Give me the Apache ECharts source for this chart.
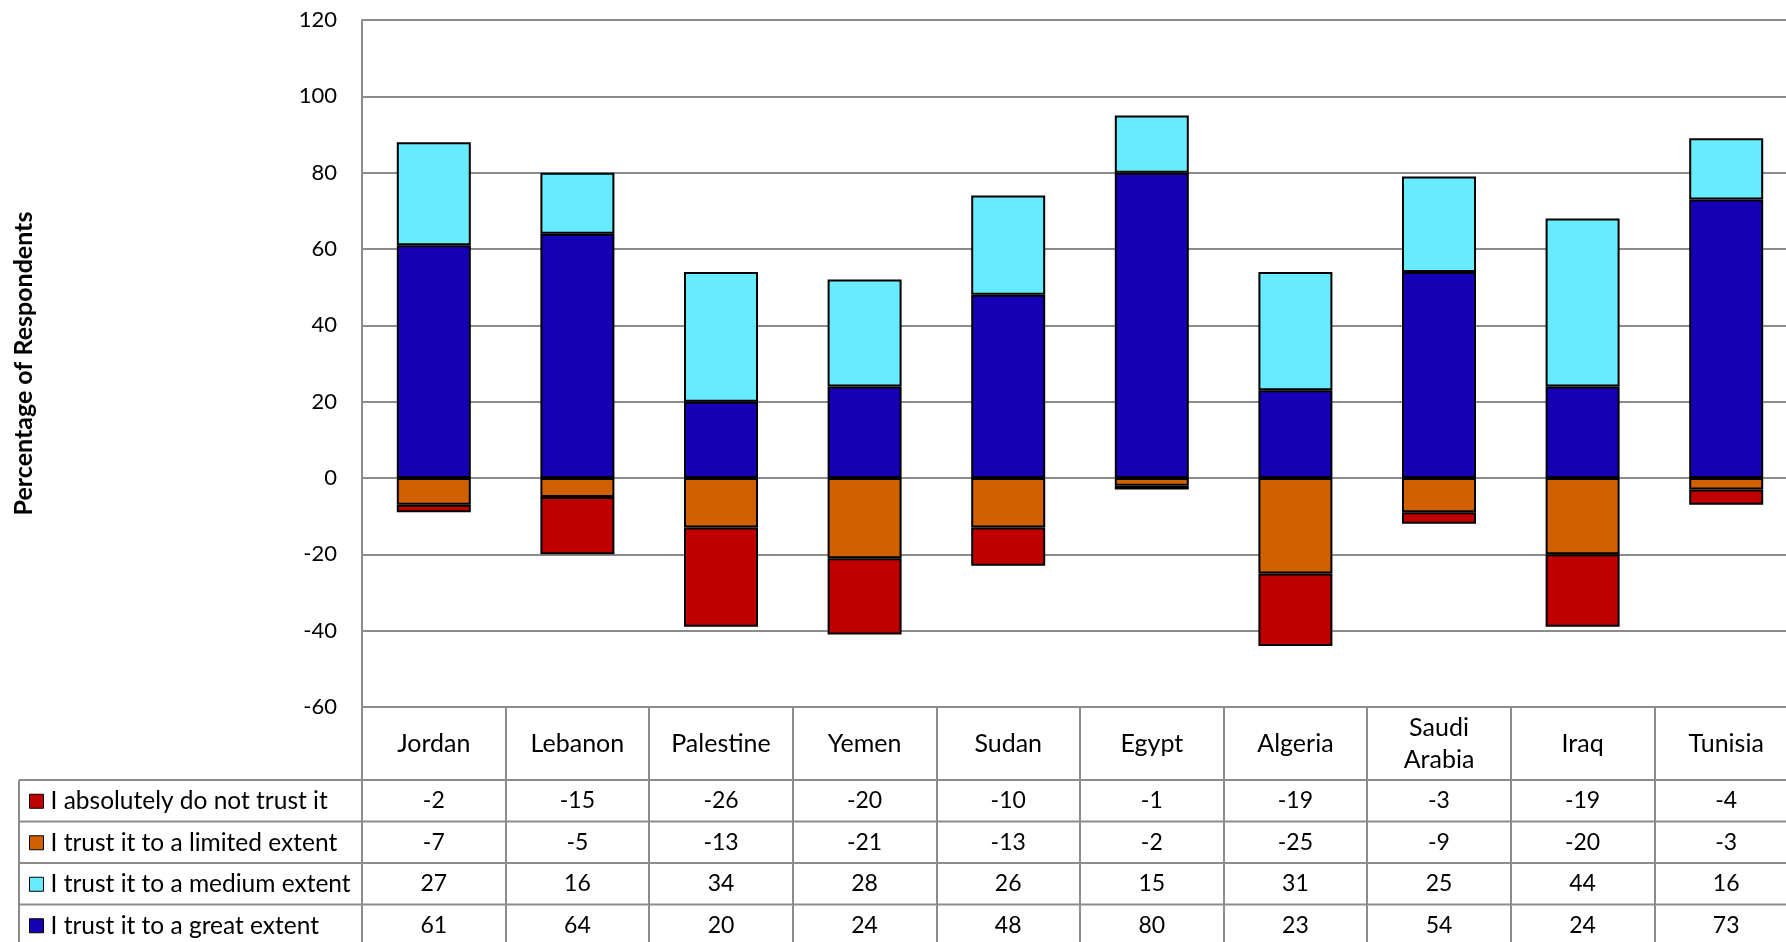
<!DOCTYPE html>
<html>
<head>
<meta charset="utf-8">
<script src="https://cdn.jsdelivr.net/npm/echarts@6/dist/echarts.min.js"></script>
<style>
  html, body { margin: 0; padding: 0; background: #fff; }
  #chart { width: 1786px; height: 942px; }
</style>
</head>
<body>
<div id="chart"></div>
<script>
// Countries along the x axis
const categories = ['Jordan', 'Lebanon', 'Palestine', 'Yemen', 'Sudan', 'Egypt', 'Algeria', 'Saudi\nArabia', 'Iraq', 'Tunisia'];

// Survey answers (percent of respondents; distrust shown as negative)
const absolutelyNot = [-2, -15, -26, -20, -10, -1, -19, -3, -19, -4];
const limitedExtent = [-7, -5, -13, -21, -13, -2, -25, -9, -20, -3];
const mediumExtent = [27, 16, 34, 28, 26, 15, 31, 25, 44, 16];
const greatExtent = [61, 64, 20, 24, 48, 80, 23, 54, 24, 73];

// Value axis range
const yMin = -60;
const yMax = 120;
const yStep = 20;

const seriesNames = [
  'I absolutely do not trust it',
  'I trust it to a limited extent',
  'I trust it to a medium extent',
  'I trust it to a great extent'
];
const seriesColors = {
  'I absolutely do not trust it': '#C00000',
  'I trust it to a limited extent': '#D06000',
  'I trust it to a medium extent': '#66EBFF',
  'I trust it to a great extent': '#1600B6'
};

// Layout of the plot and the data table beneath it
const W = 1786, H = 942;
const gridLeft = 362, gridTop = 20, gridBottomY = 707, gridRight = -12;
const rowLines = [780, 821.5, 863, 904.5];
const rowHeight = 41.5;
const legendLeftX = 19;
const gray = '#8C8C8C';
const font = 'Lato, "Noto Sans", sans-serif';

const chart = echarts.init(document.getElementById('chart'), null, { renderer: 'canvas' });

// Table rows in legend order; each row is an extra category axis whose labels are the values
const rowData = [absolutelyNot, limitedExtent, mediumExtent, greatExtent];
const tableAxes = rowData.map((vals, i) => ({
  type: 'category',
  gridIndex: 0,
  position: 'bottom',
  offset: rowLines[i] + rowHeight / 2 - gridBottomY,
  data: vals.map(String),
  axisLine: { show: false, onZero: false },
  axisTick: { show: false },
  splitLine: { show: false },
  axisLabel: {
    interval: 0,
    margin: 0,
    verticalAlign: 'middle',
    color: '#000',
    fontFamily: font,
    fontSize: 23
  }
}));

function barSeries(name, data) {
  return {
    name: name,
    type: 'bar',
    stack: 'trust',
    xAxisIndex: 0,
    yAxisIndex: 0,
    barWidth: 74,
    data: data,
    itemStyle: {
      color: seriesColors[name],
      borderColor: '#000',
      borderWidth: 2
    },
    emphasis: { disabled: true }
  };
}

// Horizontal and vertical rules of the table
const tableLines = [];
rowLines.forEach(y => {
  tableLines.push({
    type: 'line',
    shape: { x1: legendLeftX, y1: y, x2: W, y2: y },
    style: { stroke: gray, lineWidth: 2 },
    silent: true
  });
});
tableLines.push({
  type: 'line',
  shape: { x1: legendLeftX, y1: rowLines[0], x2: legendLeftX, y2: H },
  style: { stroke: gray, lineWidth: 2 },
  silent: true
});
tableLines.push({
  type: 'line',
  shape: { x1: gridLeft, y1: gridBottomY, x2: gridLeft, y2: H },
  style: { stroke: gray, lineWidth: 2 },
  silent: true
});

chart.setOption({
  animation: false,
  backgroundColor: '#fff',
  textStyle: { fontFamily: font },
  grid: {
    left: gridLeft,
    top: gridTop,
    right: gridRight,
    bottom: H - gridBottomY,
    containLabel: false,
    outerBoundsMode: 'none'
  },
  legend: {
    orient: 'vertical',
    left: 29,
    top: rowLines[0] + rowHeight / 2 - 12,
    padding: 0,
    itemWidth: 14,
    itemHeight: 14,
    itemGap: rowHeight - 25,
    icon: 'rect',
    selectedMode: false,
    data: seriesNames,
    itemStyle: { borderColor: '#000', borderWidth: 1 },
    textStyle: { color: '#000', fontFamily: font, fontSize: 24.5, lineHeight: 24, padding: [0, 0, 0, 2] }
  },
  xAxis: [
    {
      type: 'category',
      gridIndex: 0,
      position: 'bottom',
      data: categories,
      axisLine: { show: true, onZero: false, lineStyle: { color: gray, width: 2 } },
      axisTick: {
        show: true,
        interval: 0,
        alignWithLabel: false,
        length: H - gridBottomY + 6,
        lineStyle: { color: gray, width: 2 }
      },
      axisLabel: {
        interval: 0,
        margin: (rowLines[0] - gridBottomY) / 2,
        verticalAlign: 'middle',
        align: 'center',
        color: '#000',
        fontFamily: font,
        fontSize: 25,
        lineHeight: 32
      },
      splitLine: { show: false }
    }
  ].concat(tableAxes),
  yAxis: {
    type: 'value',
    min: yMin,
    max: yMax,
    interval: yStep,
    name: 'Percentage of Respondents',
    nameLocation: 'middle',
    nameRotate: 90,
    nameGap: 326,
    nameTextStyle: { color: '#000', fontFamily: font, fontSize: 25, fontWeight: 'bold' },
    axisLine: { show: true, onZero: false, lineStyle: { color: gray, width: 2 } },
    axisTick: { show: false },
    axisLabel: { color: '#000', fontFamily: font, fontSize: 22, margin: 25 },
    splitLine: { show: true, lineStyle: { color: gray, width: 2 } }
  },
  series: [
    barSeries('I trust it to a great extent', greatExtent),
    barSeries('I trust it to a medium extent', mediumExtent),
    barSeries('I trust it to a limited extent', limitedExtent),
    barSeries('I absolutely do not trust it', absolutelyNot)
  ],
  graphic: tableLines
});
</script>
</body>
</html>
